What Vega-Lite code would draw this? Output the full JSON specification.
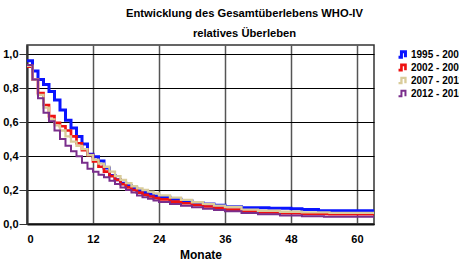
{
  "$schema": "https://vega.github.io/schema/vega-lite/v6.json",
  "autosize": {"type": "none"},
  "padding": {"left": 27, "top": 45, "right": 85, "bottom": 40},
  "width": 347,
  "height": 179,
  "background": "white",
  "config": {
    "font": "Liberation Sans, Arial",
    "view": {"stroke": "#333333", "strokeWidth": 1.5}
  },
  "title": {
    "text": "Entwicklung des Gesamtüberlebens WHO-IV",
    "subtitle": "relatives Überleben",
    "anchor": "middle",
    "dx": 44,
    "fontSize": 11.2,
    "fontWeight": "bold",
    "subtitleFontSize": 11.2,
    "subtitleFontWeight": "bold",
    "subtitleColor": "black",
    "color": "black",
    "subtitlePadding": 9,
    "offset": 6
  },
  "datasets": {
    "km": [
      {"s": "1995 - 2001", "m": 0, "v": 0.96}, {"s": "1995 - 2001", "m": 1, "v": 0.9}, {"s": "1995 - 2001", "m": 2, "v": 0.85}, {"s": "1995 - 2001", "m": 3, "v": 0.82}, {"s": "1995 - 2001", "m": 4, "v": 0.78}, {"s": "1995 - 2001", "m": 5, "v": 0.73}, {"s": "1995 - 2001", "m": 6, "v": 0.67}, {"s": "1995 - 2001", "m": 7, "v": 0.61}, {"s": "1995 - 2001", "m": 8, "v": 0.565}, {"s": "1995 - 2001", "m": 9, "v": 0.515}, {"s": "1995 - 2001", "m": 10, "v": 0.47}, {"s": "1995 - 2001", "m": 11, "v": 0.41}, {"s": "1995 - 2001", "m": 12, "v": 0.395}, {"s": "1995 - 2001", "m": 13, "v": 0.37}, {"s": "1995 - 2001", "m": 14, "v": 0.33}, {"s": "1995 - 2001", "m": 15, "v": 0.285}, {"s": "1995 - 2001", "m": 16, "v": 0.26}, {"s": "1995 - 2001", "m": 17, "v": 0.24}, {"s": "1995 - 2001", "m": 18, "v": 0.225}, {"s": "1995 - 2001", "m": 19, "v": 0.21}, {"s": "1995 - 2001", "m": 20, "v": 0.195}, {"s": "1995 - 2001", "m": 21, "v": 0.185}, {"s": "1995 - 2001", "m": 22, "v": 0.175}, {"s": "1995 - 2001", "m": 23, "v": 0.165}, {"s": "1995 - 2001", "m": 24, "v": 0.158}, {"s": "1995 - 2001", "m": 26, "v": 0.145}, {"s": "1995 - 2001", "m": 28, "v": 0.135}, {"s": "1995 - 2001", "m": 30, "v": 0.125}, {"s": "1995 - 2001", "m": 32, "v": 0.118}, {"s": "1995 - 2001", "m": 34, "v": 0.11}, {"s": "1995 - 2001", "m": 36, "v": 0.102}, {"s": "1995 - 2001", "m": 39, "v": 0.095}, {"s": "1995 - 2001", "m": 44, "v": 0.092}, {"s": "1995 - 2001", "m": 48, "v": 0.09}, {"s": "1995 - 2001", "m": 50, "v": 0.085}, {"s": "1995 - 2001", "m": 53, "v": 0.078}, {"s": "1995 - 2001", "m": 63.1, "v": 0.078},
      {"s": "2002 - 2006", "m": 0, "v": 0.925}, {"s": "2002 - 2006", "m": 1, "v": 0.85}, {"s": "2002 - 2006", "m": 2, "v": 0.77}, {"s": "2002 - 2006", "m": 3, "v": 0.7}, {"s": "2002 - 2006", "m": 4, "v": 0.635}, {"s": "2002 - 2006", "m": 5, "v": 0.595}, {"s": "2002 - 2006", "m": 6, "v": 0.575}, {"s": "2002 - 2006", "m": 7, "v": 0.55}, {"s": "2002 - 2006", "m": 8, "v": 0.515}, {"s": "2002 - 2006", "m": 9, "v": 0.475}, {"s": "2002 - 2006", "m": 10, "v": 0.435}, {"s": "2002 - 2006", "m": 11, "v": 0.405}, {"s": "2002 - 2006", "m": 12, "v": 0.368}, {"s": "2002 - 2006", "m": 13, "v": 0.337}, {"s": "2002 - 2006", "m": 14, "v": 0.308}, {"s": "2002 - 2006", "m": 15, "v": 0.282}, {"s": "2002 - 2006", "m": 16, "v": 0.26}, {"s": "2002 - 2006", "m": 17, "v": 0.235}, {"s": "2002 - 2006", "m": 18, "v": 0.215}, {"s": "2002 - 2006", "m": 19, "v": 0.2}, {"s": "2002 - 2006", "m": 20, "v": 0.185}, {"s": "2002 - 2006", "m": 21, "v": 0.172}, {"s": "2002 - 2006", "m": 22, "v": 0.162}, {"s": "2002 - 2006", "m": 23, "v": 0.152}, {"s": "2002 - 2006", "m": 24, "v": 0.145}, {"s": "2002 - 2006", "m": 26, "v": 0.132}, {"s": "2002 - 2006", "m": 28, "v": 0.122}, {"s": "2002 - 2006", "m": 30, "v": 0.112}, {"s": "2002 - 2006", "m": 32, "v": 0.103}, {"s": "2002 - 2006", "m": 34, "v": 0.095}, {"s": "2002 - 2006", "m": 36, "v": 0.085}, {"s": "2002 - 2006", "m": 39, "v": 0.078}, {"s": "2002 - 2006", "m": 42, "v": 0.068}, {"s": "2002 - 2006", "m": 46, "v": 0.063}, {"s": "2002 - 2006", "m": 50, "v": 0.06}, {"s": "2002 - 2006", "m": 55, "v": 0.058}, {"s": "2002 - 2006", "m": 63.1, "v": 0.058},
      {"s": "2007 - 2011", "m": 0, "v": 0.93}, {"s": "2007 - 2011", "m": 1, "v": 0.85}, {"s": "2007 - 2011", "m": 2, "v": 0.76}, {"s": "2007 - 2011", "m": 3, "v": 0.685}, {"s": "2007 - 2011", "m": 4, "v": 0.615}, {"s": "2007 - 2011", "m": 5, "v": 0.58}, {"s": "2007 - 2011", "m": 6, "v": 0.55}, {"s": "2007 - 2011", "m": 7, "v": 0.515}, {"s": "2007 - 2011", "m": 8, "v": 0.485}, {"s": "2007 - 2011", "m": 9, "v": 0.46}, {"s": "2007 - 2011", "m": 10, "v": 0.44}, {"s": "2007 - 2011", "m": 11, "v": 0.405}, {"s": "2007 - 2011", "m": 12, "v": 0.378}, {"s": "2007 - 2011", "m": 13, "v": 0.355}, {"s": "2007 - 2011", "m": 14, "v": 0.337}, {"s": "2007 - 2011", "m": 15, "v": 0.308}, {"s": "2007 - 2011", "m": 16, "v": 0.282}, {"s": "2007 - 2011", "m": 17, "v": 0.26}, {"s": "2007 - 2011", "m": 18, "v": 0.24}, {"s": "2007 - 2011", "m": 19, "v": 0.222}, {"s": "2007 - 2011", "m": 20, "v": 0.21}, {"s": "2007 - 2011", "m": 21, "v": 0.2}, {"s": "2007 - 2011", "m": 22, "v": 0.19}, {"s": "2007 - 2011", "m": 23, "v": 0.18}, {"s": "2007 - 2011", "m": 24, "v": 0.168}, {"s": "2007 - 2011", "m": 26, "v": 0.155}, {"s": "2007 - 2011", "m": 28, "v": 0.142}, {"s": "2007 - 2011", "m": 30, "v": 0.128}, {"s": "2007 - 2011", "m": 32, "v": 0.118}, {"s": "2007 - 2011", "m": 34, "v": 0.108}, {"s": "2007 - 2011", "m": 36, "v": 0.1}, {"s": "2007 - 2011", "m": 39, "v": 0.085}, {"s": "2007 - 2011", "m": 42, "v": 0.078}, {"s": "2007 - 2011", "m": 46, "v": 0.072}, {"s": "2007 - 2011", "m": 50, "v": 0.068}, {"s": "2007 - 2011", "m": 55, "v": 0.065}, {"s": "2007 - 2011", "m": 63.1, "v": 0.065},
      {"s": "2012 - 2016", "m": 0, "v": 0.935}, {"s": "2012 - 2016", "m": 1, "v": 0.85}, {"s": "2012 - 2016", "m": 2, "v": 0.74}, {"s": "2012 - 2016", "m": 3, "v": 0.655}, {"s": "2012 - 2016", "m": 4, "v": 0.605}, {"s": "2012 - 2016", "m": 5, "v": 0.55}, {"s": "2012 - 2016", "m": 6, "v": 0.5}, {"s": "2012 - 2016", "m": 7, "v": 0.46}, {"s": "2012 - 2016", "m": 8, "v": 0.428}, {"s": "2012 - 2016", "m": 9, "v": 0.398}, {"s": "2012 - 2016", "m": 10, "v": 0.36}, {"s": "2012 - 2016", "m": 11, "v": 0.325}, {"s": "2012 - 2016", "m": 12, "v": 0.308}, {"s": "2012 - 2016", "m": 13, "v": 0.29}, {"s": "2012 - 2016", "m": 14, "v": 0.275}, {"s": "2012 - 2016", "m": 15, "v": 0.255}, {"s": "2012 - 2016", "m": 16, "v": 0.235}, {"s": "2012 - 2016", "m": 17, "v": 0.215}, {"s": "2012 - 2016", "m": 18, "v": 0.2}, {"s": "2012 - 2016", "m": 19, "v": 0.185}, {"s": "2012 - 2016", "m": 20, "v": 0.168}, {"s": "2012 - 2016", "m": 21, "v": 0.158}, {"s": "2012 - 2016", "m": 22, "v": 0.148}, {"s": "2012 - 2016", "m": 23, "v": 0.138}, {"s": "2012 - 2016", "m": 24, "v": 0.13}, {"s": "2012 - 2016", "m": 26, "v": 0.118}, {"s": "2012 - 2016", "m": 28, "v": 0.108}, {"s": "2012 - 2016", "m": 30, "v": 0.098}, {"s": "2012 - 2016", "m": 32, "v": 0.09}, {"s": "2012 - 2016", "m": 34, "v": 0.082}, {"s": "2012 - 2016", "m": 36, "v": 0.075}, {"s": "2012 - 2016", "m": 39, "v": 0.065}, {"s": "2012 - 2016", "m": 42, "v": 0.058}, {"s": "2012 - 2016", "m": 46, "v": 0.05}, {"s": "2012 - 2016", "m": 50, "v": 0.046}, {"s": "2012 - 2016", "m": 54, "v": 0.042}, {"s": "2012 - 2016", "m": 63.1, "v": 0.042}
    ]
  },
  "data": {"name": "km"},
  "mark": {"type": "line", "interpolate": "step-after", "clip": true},
  "encoding": {
    "x": {
      "field": "m", "type": "quantitative",
      "scale": {"domain": [0, 63.1], "nice": false, "zero": false},
      "axis": {
        "values": [0, 12, 24, 36, 48, 60],
        "title": "Monate",
        "titleFontSize": 12, "titleFontWeight": "bold", "titleColor": "black", "titlePadding": 5,
        "labelFontSize": 11, "labelFontWeight": "bold", "labelColor": "black", "labelPadding": 1,
        "ticks": true, "tickSize": 8, "tickColor": "#ffffff", "tickWidth": 0,
        "grid": true, "gridColor": "#555555", "gridWidth": 1.5, "gridOpacity": 1,
        "domain": true, "domainColor": "#111111", "domainWidth": 2
      }
    },
    "y": {
      "field": "v", "type": "quantitative",
      "scale": {"domain": [0, 1.053], "nice": false},
      "axis": {
        "values": [0, 0.2, 0.4, 0.6, 0.8, 1.0],
        "labelExpr": "replace(format(datum.value, '.1f'), '.', ',')",
        "title": null,
        "labelFontSize": 11, "labelFontWeight": "bold", "labelColor": "black", "labelPadding": 1,
        "tickSize": 8, "tickColor": "#333333", "tickWidth": 1,
        "grid": true, "gridColor": "#000000", "gridWidth": 1.2, "gridOpacity": 1,
        "domain": true, "domainColor": "#333333", "domainWidth": 2
      }
    },
    "color": {
      "field": "s", "type": "nominal",
      "scale": {
        "domain": ["1995 - 2001", "2002 - 2006", "2007 - 2011", "2012 - 2016"],
        "range": ["#0a14ff", "#ee1111", "#d9cc9a", "#7a2e8c"]
      },
      "legend": {
        "title": null,
        "orient": "none",
        "legendX": 370,
        "legendY": 3,
        "symbolType": "M-1,0.6L-0.35,0.6L-0.35,-0.6L0.55,-0.6L0.55,0.6",
        "symbolSize": 80,
        "symbolStrokeWidth": 2,
        "labelFontSize": 10,
        "labelFontWeight": "bold",
        "labelColor": "black",
        "labelOffset": 2,
        "rowPadding": 0,
        "clipHeight": 13,
        "labelLimit": 200,
        "encode": {
          "symbols": {"update": {"fill": {"value": "transparent"}, "fillOpacity": {"value": 0}}}
        }
      }
    },
    "strokeWidth": {
      "field": "s", "type": "nominal",
      "scale": {
        "domain": ["1995 - 2001", "2002 - 2006", "2007 - 2011", "2012 - 2016"],
        "range": [3, 2, 4, 3.5]
      },
      "legend": null
    }
  }
}
